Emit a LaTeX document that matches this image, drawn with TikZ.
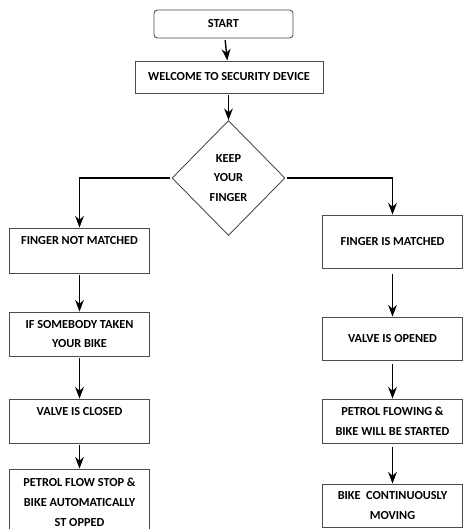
\documentclass[tikz,border=0pt]{standalone}
\usepackage{fontspec}
\setmainfont{Carlito}
\usetikzlibrary{arrows.meta,positioning,shapes.geometric}

\begin{document}
\begin{tikzpicture}[x=0.02cm,y=-0.02cm,>=Stealth,
   font=\fontsize{7}{11.3}\selectfont\bfseries,
   blk/.style={draw=black!70,line width=0.5pt,align=center,inner sep=1pt},
   col/.style={blk,minimum width=2.8cm},
   arr/.style={->,thick,shorten <=1pt}]
  \useasboundingbox (0,0) rectangle (463,529);
  % top part
  \node[blk,rounded corners=2pt,minimum width=2.78cm,minimum height=0.56cm] (start) at (223.5,24) {START};
  \node[blk,minimum width=3.76cm,minimum height=0.64cm] (welcome) at (229,77) {WELCOME TO SECURITY DEVICE};
  \node[blk,diamond,aspect=1,inner sep=0pt,minimum width=2.26cm,minimum height=2.3cm] (keep) at (228.5,178) {KEEP\\YOUR\\FINGER};
  % left branch
  \node[col,minimum height=0.9cm] (notm) at (79.5,250.5) {FINGER NOT MATCHED\\\mbox{}};
  \node[col,minimum height=0.88cm] (taken) at (79.5,334) {IF SOMEBODY TAKEN\\YOUR BIKE};
  \node[col,minimum height=0.88cm] (closed) at (79.5,421) {VALVE IS CLOSED\\\mbox{}};
  \node[col,minimum height=1.32cm] (stop) at (79.5,502) {PETROL FLOW STOP \&\\BIKE AUTOMATICALLY\\ST OPPED};
  % right branch
  \node[col,minimum height=1.06cm] (match) at (392.5,241.5) {FINGER IS MATCHED};
  \node[col,minimum height=0.86cm] (opened) at (392.5,338.5) {VALVE IS OPENED};
  \node[col,minimum height=0.88cm] (flow) at (392.5,421) {PETROL FLOWING \&\\BIKE WILL BE STARTED};
  \node[col,minimum height=0.86cm] (moving) at (392.5,505.5) {BIKE\ \ CONTINUOUSLY\\MOVING};
  % connectors
  \draw[arr] (start) -- (welcome);
  \draw[arr] (welcome.south -| keep.north) -- (keep.north);
  \draw[arr] (keep.west) -| (notm.north);
  \draw[arr] (keep.east) -| (match.north);
  \draw[arr] (notm) -- (taken);
  \draw[arr] (taken) -- (closed);
  \draw[arr] (closed) -- (stop);
  \draw[arr,shorten <=3pt] (match) -- (opened);
  \draw[arr,shorten <=2pt] (opened) -- (flow);
  \draw[arr,shorten <=2pt] (flow) -- (moving);
\end{tikzpicture}
\end{document}
